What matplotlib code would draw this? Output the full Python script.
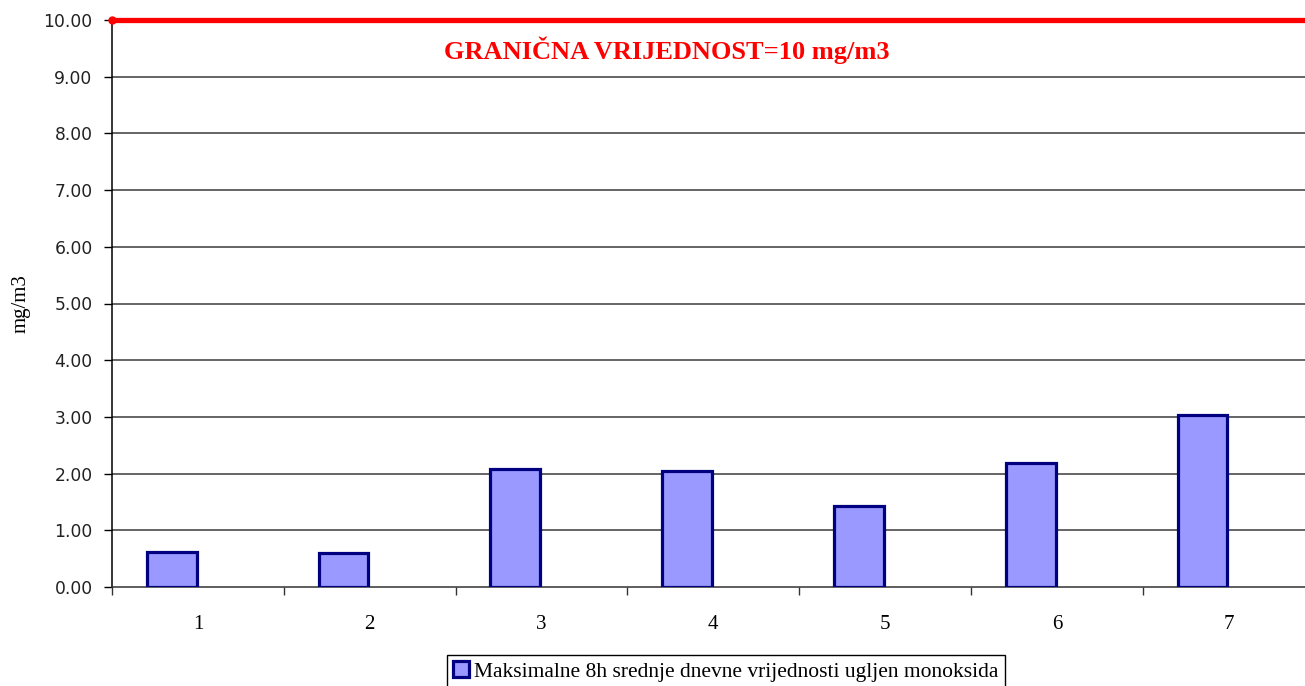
import matplotlib
matplotlib.use("Agg")
import matplotlib.pyplot as plt
from matplotlib.patches import Patch

# data
categories = [1, 2, 3, 4, 5, 6, 7]
co_max8h = [0.62, 0.60, 2.08, 2.05, 1.43, 2.18, 3.04]
limit_value = 10
limit_label = "GRANIČNA VRIJEDNOST=10 mg/m3"
series_label = "Maksimalne 8h srednje dnevne vrijednosti ugljen monoksida"
yticks = [0, 1, 2, 3, 4, 5, 6, 7, 8, 9, 10]

fig = plt.figure(figsize=(13.05, 6.86), dpi=100)
# plot area runs a little past the right edge of the picture (as in the original)
ax = fig.add_axes([112/1305, 99/686, 7*171.8/1305, 567/686])

bar_face = "#9999FF"
bar_edge = "#000080"

xs = [c - 0.152 for c in categories]
ax.bar(xs, co_max8h, width=0.29, color=bar_face, edgecolor=bar_edge,
       linewidth=2.3, zorder=3)

ax.set_xlim(0.5, len(categories) + 0.5)
ax.set_ylim(0, limit_value)

# grid lines
for y in yticks[1:-1]:
    ax.axhline(y, color="#3a3a3a", linewidth=1.1, zorder=1)

# limit line
xl = ax.get_xlim()
ax.plot([xl[0], xl[1]], [limit_value, limit_value], color="red",
        linewidth=3.8, solid_capstyle="butt", zorder=5, clip_on=False)
ax.plot([xl[0]], [limit_value], "o", color="red", markersize=5,
        zorder=6, clip_on=False)
ax.text((667 - 112)/(7*171.8), 0.947, limit_label, transform=ax.transAxes,
        ha="center", va="center", color="red", fontsize=19,
        fontweight="bold", family="Liberation Serif")

# y axis
ax.set_yticks(yticks)
ax.set_yticklabels(["%.2f" % v for v in yticks], fontsize=12.3, color="#222222")
ax.tick_params(axis="y", direction="out", length=6, width=1, pad=8)
ax.set_ylabel("mg/m3", fontsize=15, family="Liberation Serif")
ax.yaxis.set_label_coords(-(112 - 31)/(7*171.8), 0.5)

# x axis: ticks at boundaries, labels at centers
bounds = [c + 0.5 for c in [0] + categories]
ax.set_xticks(bounds)
ax.set_xticklabels([])
ax.tick_params(axis="x", which="major", direction="out", length=6,
               width=1, color="#333333")
ax.set_xticks(categories, minor=True)
ax.set_xticklabels([str(c) for c in categories], minor=True,
                   fontsize=15, family="Liberation Serif")
ax.tick_params(axis="x", which="minor", length=0, pad=20)

for s in ["top", "right"]:
    ax.spines[s].set_visible(False)
ax.spines["left"].set_linewidth(1.1)
ax.spines["bottom"].set_linewidth(1.1)
ax.spines["bottom"].set_color("#333333")

handle = Patch(facecolor=bar_face, edgecolor=bar_edge, linewidth=2.3)
leg = fig.legend([handle], [series_label], loc="upper left",
                 bbox_to_anchor=(447/1305, 31/686), frameon=True,
                 fancybox=False, edgecolor="black", framealpha=1,
                 prop={"family": "Liberation Serif", "size": 15.5},
                 handlelength=0.7, handleheight=0.7, handletextpad=0.25,
                 borderpad=0.3, borderaxespad=0)
leg.get_frame().set_linewidth(1.0)

fig.savefig("out.png", dpi=100)
